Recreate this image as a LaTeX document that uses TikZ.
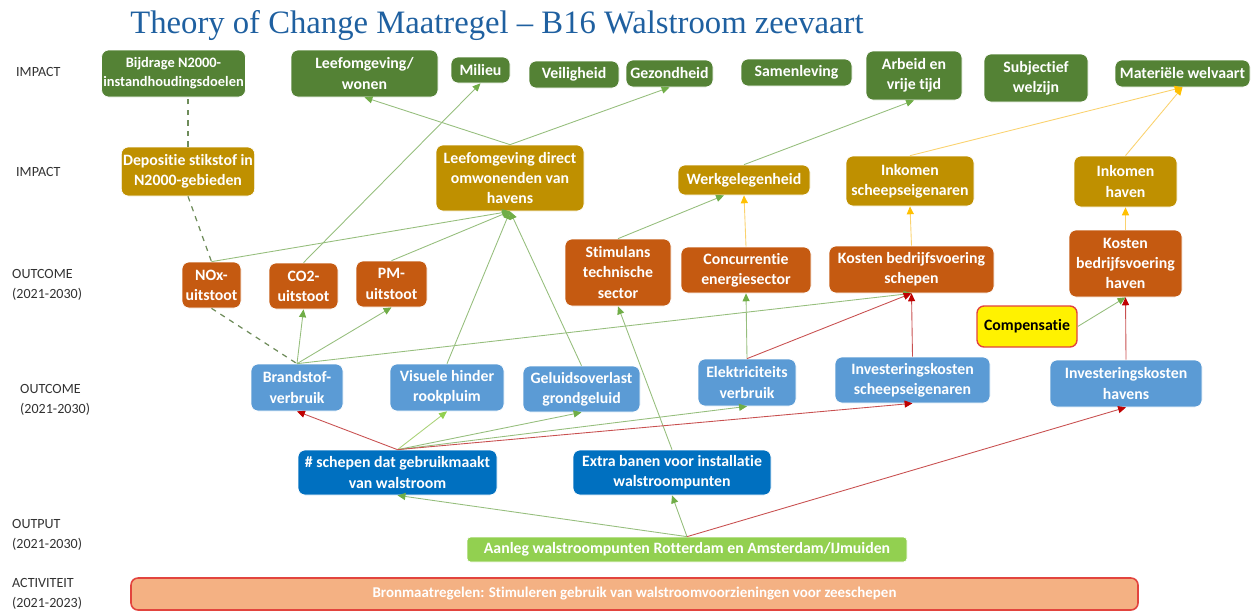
\documentclass[tikz,border=0pt]{standalone}
\usepackage{fontspec}
\setmainfont{Carlito}[Ligatures={TeX,NoCommon}]
\newfontfamily\titlefont{Liberation Serif}
\usetikzlibrary{arrows.meta,positioning}
\definecolor{impG}{RGB}{84,130,53}
\definecolor{impY}{RGB}{191,144,0}
\definecolor{outO}{RGB}{197,90,17}
\definecolor{outB}{RGB}{91,155,213}
\definecolor{outpB}{RGB}{0,112,192}
\definecolor{aanG}{RGB}{146,208,80}
\definecolor{actF}{RGB}{244,177,131}
\definecolor{actR}{RGB}{226,68,62}
\definecolor{titleB}{RGB}{31,96,160}
\definecolor{lblK}{RGB}{50,50,50}
\definecolor{lnG}{RGB}{150,190,125}
\definecolor{tipG}{RGB}{112,173,71}
\definecolor{lnLG}{RGB}{170,210,120}
\definecolor{tipLG}{RGB}{146,208,80}
\definecolor{lnR}{RGB}{200,80,80}
\definecolor{tipR}{RGB}{192,0,0}
\definecolor{lnY}{RGB}{250,210,110}
\definecolor{tipY}{RGB}{255,192,0}
\definecolor{dashG}{RGB}{110,140,90}
\tikzset{
  box/.style={draw=white,line width=0.4pt,rounded corners=4pt,align=center,inner sep=1pt,
    text=white,font=\fontsize{9}{11.5}\selectfont\bfseries},
  sz/.style 2 args={minimum width=#1*0.02cm,minimum height=#2*0.02cm},
  impact/.style={box,fill=impG},
  effect/.style={box,fill=impY},
  outc/.style={box,fill=outO},
  outl/.style={box,fill=outB},
  outp/.style={box,fill=outpB},
  rowlbl/.style={anchor=west,align=left,text=lblK,font=\fontsize{8}{11}\selectfont},
  garr/.style={draw=lnG,line width=0.5pt,-{Triangle[length=4.5pt,width=4pt,color=tipG]}},
  larr/.style={draw=lnLG,line width=0.5pt,-{Triangle[length=4.5pt,width=4pt,color=tipLG]}},
  rarr/.style={draw=lnR,line width=0.5pt,-{Triangle[length=4.5pt,width=4pt,color=tipR]}},
  yarr/.style={draw=lnY,line width=0.5pt,-{Triangle[length=4.5pt,width=4pt,color=tipY]}},
  dsh/.style={draw=dashG,dashed,line width=0.7pt},
}
\begin{document}
\begin{tikzpicture}[x=0.02cm,y=-0.02cm]
\useasboundingbox (0,0) rectangle (1257,612);
\node[text=titleB,font=\titlefont\fontsize{18.6}{22}\selectfont] (title) at (497,26) {Theory of Change Maatregel – B16 Walstroom zeevaart};

% row labels
\node[rowlbl] (l1) at (10,72) {IMPACT};
\node[rowlbl] (l2) at (10,172) {IMPACT};
\node[rowlbl] (l3) at (6,285) {OUTCOME\\(2021-2030)};
\node[rowlbl] (l4) at (14,400) {OUTCOME\\(2021-2030)};
\node[rowlbl] (l5) at (6,535) {OUTPUT\\(2021-2030)};
\node[rowlbl] (l6) at (6,594) {ACTIVITEIT\\(2021-2023)};

% impact (top)
\node[impact,sz={133}{47},font=\fontsize{8.2}{11}\selectfont\bfseries] (bijdrage) at (173.5,73.5) {Bijdrage N2000-\\instandhoudingsdoelen};
\node[impact,sz={147}{47}] (wonen) at (364.5,73.5) {Leefomgeving/\\wonen};
\node[impact,sz={59}{26}] (milieu) at (480.5,70) {Milieu};
\node[impact,sz={90}{27}] (veilig) at (574,74.5) {Veiligheid};
\node[impact,sz={87}{27}] (gezond) at (669.5,73.5) {Gezondheid};
\node[impact,sz={111}{27}] (samen) at (796.5,72.5) {Samenleving};
\node[impact,sz={96}{49}] (arbeid) at (914,75.5) {Arbeid en\\vrije tijd};
\node[impact,sz={104}{48}] (subj) at (1036,78) {Subjectief\\welzijn};
\node[impact,sz={135}{27}] (welvaart) at (1182.5,73.5) {Materiële welvaart};

% impact (effects)
\node[effect,sz={133}{49}] (depositie) at (188,171.5) {Depositie stikstof in\\N2000-gebieden};
\node[effect,sz={148}{66}] (direct) at (510,178) {Leefomgeving direct\\omwonenden van\\havens};
\node[effect,sz={132}{30}] (werk) at (744,180) {Werkgelegenheid};
\node[effect,sz={128}{50}] (inkschip) at (910,181) {Inkomen\\scheepseigenaren};
\node[effect,sz={103}{51}] (inkhaven) at (1125.5,181.5) {Inkomen\\haven};

% outcome 1
\node[outc,sz={59}{46}] (nox) at (211.5,285) {NOx-\\uitstoot};
\node[outc,sz={69}{46}] (co2) at (303.5,286) {CO2-\\uitstoot};
\node[outc,sz={71}{46}] (pm) at (391.5,284) {PM-\\uitstoot};
\node[outc,sz={106}{67}] (stim) at (618,272.5) {Stimulans\\technische\\sector};
\node[outc,sz={130}{46}] (conc) at (746,270) {Concurrentie\\energiesector};
\node[outc,sz={165}{47}] (kostschip) at (911.5,269.5) {Kosten bedrijfsvoering\\schepen};
\node[outc,sz={113}{67}] (kosthaven) at (1125.5,263.5) {Kosten\\bedrijfsvoering\\haven};
\node[box,fill=yellow,draw=actR,line width=0.8pt,text=black,sz={100}{41}] (comp) at (1027,326.5) {Compensatie};

% outcome 2
\node[outl,sz={92}{47}] (brand) at (297,387.5) {Brandstof-\\verbruik};
\node[outl,sz={114}{47}] (visueel) at (447,387.5) {Visuele hinder\\rookpluim};
\node[outl,sz={117}{46}] (geluid) at (581.5,389) {Geluidsoverlast\\grondgeluid};
\node[outl,sz={98}{47}] (elek) at (747,382.5) {Elektriciteits\\verbruik};
\node[outl,sz={155}{46}] (invschip) at (912.5,380) {Investeringskosten\\scheepseigenaren};
\node[outl,sz={152}{47}] (invhaven) at (1126,383.5) {Investeringskosten\\havens};

% output
\node[outp,sz={199}{45}] (schepen) at (397.5,472.5) {\# schepen dat gebruikmaakt\\van walstroom};
\node[outp,sz={198}{45}] (banen) at (672,472.5) {Extra banen voor installatie\\walstroompunten};
\node[box,fill=aanG,rounded corners=2pt,sz={440}{25}] (aanleg) at (687,549.5) {Aanleg walstroompunten Rotterdam en Amsterdam/IJmuiden};

% activity
\node[box,fill=actF,draw=actR,line width=0.9pt,sz={1007}{32},font=\fontsize{8.5}{11}\selectfont\bfseries] (act) at (634.5,594) {Bronmaatregelen: Stimuleren gebruik van walstroomvoorzieningen voor zeeschepen};

% dashed links
\draw[dsh] (depositie.north) -- (depositie.north |- bijdrage.south);
\draw[dsh] (depositie.south) -- (nox.north);
\draw[dsh] (nox.south) -- (brand.north);

% links
\draw[garr] (direct.north) -- (wonen.south);
\draw[garr] (direct.north) -- (gezond.south);
\draw[garr] (co2.north) -- (milieu.south);
\draw[garr] (nox.north) -- (direct.south);
\draw[garr] (pm.north) -- (direct.south);
\draw[garr] (visueel.north) -- (direct.south);
\draw[garr] (geluid.north) -- (direct.south);
\draw[garr] (brand.north) -- (co2.south);
\draw[garr] (brand.north) -- (pm.south);
\draw[garr] (brand.north) -- (kostschip.south);
\draw[garr] (banen.north) -- (stim.south);
\draw[garr] (stim.north) -- ([xshift=-0.4cm]werk.south);
\draw[garr] (werk.north) -- (arbeid.south);
\draw[garr] (elek.north) -- (conc.south);
\draw[garr] (comp.east) -- (kosthaven.south);
\draw[larr] (schepen.north) -- (visueel.south);
\draw[garr] (schepen.north) -- (geluid.south);
\draw[garr] (schepen.north) -- (elek.south);
\draw[rarr] (schepen.north) -- (brand.south);
\draw[rarr] (schepen.north) -- (invschip.south);
\draw[rarr] (elek.north) -- (kostschip.south);
\draw[rarr] (invschip.north) -- (kostschip.south);
\draw[rarr] (invhaven.north) -- (kosthaven.south);
\draw[yarr] (conc.north) -- (werk.south);
\draw[yarr] (kostschip.north) -- (inkschip.south);
\draw[yarr] (kosthaven.north) -- (inkhaven.south);
\draw[yarr] (inkschip.north) -- (welvaart.south);
\draw[yarr] (inkhaven.north) -- (welvaart.south);
\draw[garr] (aanleg.north) -- (schepen.south);
\draw[garr] (aanleg.north) -- (banen.south);
\draw[rarr] (aanleg.north) -- (invhaven.south);
\end{tikzpicture}
\end{document}
